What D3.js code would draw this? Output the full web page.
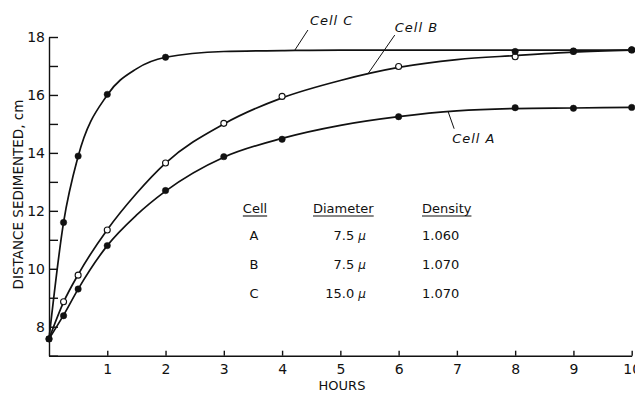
<!DOCTYPE html>
<html>
<head>
<meta charset="utf-8">
<script src="https://cdn.jsdelivr.net/npm/d3@7"></script>
<style>
  body { margin: 0; background: #fff; }
  svg { display: block; font-family: "DejaVu Sans", sans-serif; }
</style>
</head>
<body>
<div class="chart"></div>
<script>
"use strict";

// measured points (hours, cm)
const hoursA = [0, 0.25, 0.5, 1, 2, 3, 4, 6, 8, 9, 10];
const valuesA = [7.58, 8.38, 9.3, 10.8, 12.7, 13.87, 14.47, 15.25, 15.56, 15.54, 15.57];
const hoursB = [0.25, 0.5, 1, 2, 3, 4, 6, 8, 9, 10];
const valuesB = [8.86, 9.78, 11.34, 13.65, 15.02, 15.95, 16.98, 17.32, 17.5, 17.55];
const hoursC = [0, 0.25, 0.5, 1, 2, 8, 9, 10];
const valuesC = [7.58, 11.6, 13.89, 16.02, 17.3, 17.5, 17.52, 17.56];

// fitted curves as drawn in the figure
const curveHours = [0, 0.25, 0.5, 1, 1.5, 2, 3, 4, 5, 6, 7, 8, 9, 10];
const curveA = [7.58, 8.4, 9.3, 10.8, 11.85, 12.68, 13.85, 14.5, 14.95, 15.25, 15.45, 15.53, 15.55, 15.57];
const curveB = [7.58, 8.85, 9.8, 11.35, 12.6, 13.65, 15.0, 15.9, 16.5, 16.95, 17.22, 17.36, 17.48, 17.55];
const curveC = [7.58, 11.6, 13.88, 16.0, 16.9, 17.3, 17.5, 17.53, 17.55, 17.55, 17.55, 17.55, 17.55, 17.55];

// table text
const tableCells = ["A", "B", "C"];
const tableDiameters = ["7.5", "7.5", "15.0"];
const tableDensities = ["1.060", "1.070", "1.070"];

// curve labels: name, point on curve (hours, cm)
const labelNames = ["Cell C", "Cell B", "Cell A"];
const labelHours = [4.22, 5.47, 6.85];
const labelValues = [17.55, 16.72, 15.42];

const xTicks = [1, 2, 3, 4, 5, 6, 7, 8, 9, 10];
const yTicks = [7, 8, 9, 10, 11, 12, 13, 14, 15, 16, 17, 18];

const width = 635, height = 394;
const ink = "#111";

const svg = d3.select(".chart").append("svg")
    .attr("width", width)
    .attr("height", height);

const x = d3.scaleLinear().domain([0, 10]).range([49, 631.7]);
const y = d3.scaleLinear().domain([7, 18]).range([355.7, 37]);

// axes, ticks pointing inward
const xAxis = svg.append("g")
    .attr("transform", "translate(0," + y(7) + ")")
    .call(d3.axisBottom(x).tickValues(xTicks).tickSizeInner(-5).tickSizeOuter(0).tickPadding(8)
        .tickFormat(d3.format("d")));

const yAxis = svg.append("g")
    .attr("transform", "translate(" + x(0) + ",0)")
    .call(d3.axisLeft(y).tickValues(yTicks).tickSizeInner(-9).tickSizeOuter(0).tickPadding(4)
        .tickFormat(d => d % 2 === 0 ? d : ""));

[xAxis, yAxis].forEach(function (g) {
    g.selectAll("path, line").attr("stroke", ink).attr("stroke-width", 1.4);
    g.selectAll("text").attr("fill", ink).style("font-size", "14px")
        .style("font-family", "DejaVu Sans, sans-serif");
});

// axis titles
svg.append("text")
    .attr("x", 342).attr("y", 390)
    .attr("text-anchor", "middle")
    .attr("fill", ink)
    .style("font-size", "13px")
    .text("HOURS");

svg.append("text")
    .attr("transform", "translate(23,194.5) rotate(-90)")
    .attr("text-anchor", "middle")
    .attr("fill", ink)
    .style("font-size", "13.5px")
    .text("DISTANCE SEDIMENTED, cm");

// curves
const line = d3.line()
    .x(d => x(d[0]))
    .y(d => y(d[1]))
    .curve(d3.curveMonotoneX);

[curveA, curveB, curveC].forEach(function (vals) {
    svg.append("path")
        .datum(curveHours.map((h, i) => [h, vals[i]]))
        .attr("fill", "none")
        .attr("stroke", ink)
        .attr("stroke-width", 1.7)
        .attr("d", line);
});

// markers: B open circles, A and C filled
function dots(hours, values, filled) {
    svg.append("g").selectAll("circle")
        .data(hours.map((h, i) => [h, values[i]]))
        .join("circle")
        .attr("cx", d => x(d[0]))
        .attr("cy", d => y(d[1]))
        .attr("r", filled ? 3.2 : 3)
        .attr("fill", filled ? ink : "#fff")
        .attr("stroke", ink)
        .attr("stroke-width", filled ? 0.5 : 1.1);
}
dots(hoursB, valuesB, false);
dots(hoursA, valuesA, true);
dots(hoursC, valuesC, true);

// curve labels with leader lines (offsets in px from the curve point)
const leaderEnd = [[13, -20], [27, -39], [6, 17]];
const textPos = [[15, -25], [27, -42], [4, 31]];
labelNames.forEach(function (name, i) {
    const px = x(labelHours[i]), py = y(labelValues[i]);
    svg.append("line")
        .attr("x1", px).attr("y1", py)
        .attr("x2", px + leaderEnd[i][0]).attr("y2", py + leaderEnd[i][1])
        .attr("stroke", ink).attr("stroke-width", 1);
    svg.append("text")
        .attr("x", px + textPos[i][0]).attr("y", py + textPos[i][1])
        .attr("fill", ink)
        .style("font-size", "13px")
        .style("font-style", "italic")
        .style("letter-spacing", "1px")
        .text(name);
});

// table
const table = svg.append("g").attr("fill", ink).style("font-size", "13px");
function header(txt, xPos, anchor) {
    const t = table.append("text")
        .attr("x", xPos).attr("y", 213)
        .attr("text-anchor", anchor)
        .text(txt);
    const w = t.node().getComputedTextLength();
    const x0 = anchor === "middle" ? xPos - w / 2 : xPos;
    table.append("line")
        .attr("x1", x0).attr("x2", x0 + w)
        .attr("y1", 216).attr("y2", 216)
        .attr("stroke", ink).attr("stroke-width", 1.1);
}
header("Cell", 255, "middle");
header("Diameter", 313, "start");
header("Density", 422, "start");

const rowY = [240, 269, 298];
tableCells.forEach(function (c, i) {
    table.append("text").attr("x", 254).attr("y", rowY[i])
        .attr("text-anchor", "middle").text(c);
    const d = table.append("text").attr("x", 366).attr("y", rowY[i])
        .attr("text-anchor", "end");
    d.append("tspan").text(tableDiameters[i] + " ");
    d.append("tspan").style("font-style", "italic").style("font-size", "12px").text("\u03bc");
    table.append("text").attr("x", 422).attr("y", rowY[i])
        .text(tableDensities[i]);
});
</script>
</body>
</html>
